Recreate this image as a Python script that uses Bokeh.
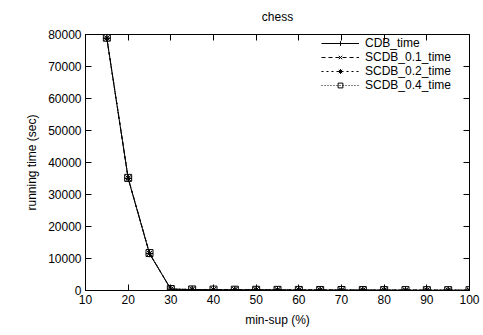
from bokeh.plotting import figure
from bokeh.models import (LinearAxis, Range1d, FixedTicker, Legend, LegendItem,
                          CustomLabelingPolicy)
from bokeh.embed import file_html
from bokeh.resources import INLINE

min_sup = [15, 20, 25, 30, 35, 40, 45, 50, 55, 60, 65, 70, 75, 80, 85, 90, 95, 100]
cdb_time = [78800, 35000, 11500, 400, 300, 250, 220, 200, 180, 160, 150, 140, 130, 120, 110, 100, 90, 80]
scdb_01_time = [78900, 35100, 11600, 420, 310, 260, 230, 210, 190, 170, 155, 145, 135, 125, 115, 105, 95, 85]
scdb_02_time = [78900, 35100, 11600, 430, 320, 270, 240, 215, 195, 175, 160, 150, 140, 130, 120, 110, 100, 90]
scdb_04_time = [79000, 35200, 11700, 450, 330, 280, 250, 220, 200, 180, 165, 155, 145, 135, 125, 115, 105, 95]
x_ticks = [10, 20, 30, 40, 50, 60, 70, 80, 90, 100]
y_ticks = [0, 10000, 20000, 30000, 40000, 50000, 60000, 70000, 80000]

FONT = "Liberation Sans"
FS = "12px"

p = figure(width=483, height=335, output_backend="svg", toolbar_location=None,
           x_range=Range1d(10, 100), y_range=Range1d(0, 80000),
           title="chess", min_border_left=85, min_border_right=14,
           min_border_top=33, min_border_bottom=45)
p.title.align = "center"
p.title.text_font = FONT
p.title.text_font_size = FS
p.title.text_font_style = "normal"
p.title.text_color = "black"
p.title.standoff = 14
p.grid.visible = False
p.outline_line_color = "black"
p.outline_line_width = 1
p.background_fill_color = "white"
p.border_fill_color = "white"

p.xaxis.ticker = FixedTicker(ticks=x_ticks)
p.yaxis.ticker = FixedTicker(ticks=y_ticks)
p.xaxis.axis_label = "min-sup (%)"
p.yaxis.axis_label = "running time (sec)"
for ax in [p.xaxis[0], p.yaxis[0]]:
    ax.major_tick_in = 6
    ax.major_tick_out = 0
    ax.minor_tick_in = 0
    ax.minor_tick_out = 0
    ax.axis_line_color = "black"
    ax.major_tick_line_color = "black"
    ax.major_label_text_font = FONT
    ax.major_label_text_font_size = FS
    ax.major_label_text_color = "black"
    ax.axis_label_text_font = FONT
    ax.axis_label_text_font_size = FS
    ax.axis_label_text_font_style = "normal"
    ax.axis_label_text_color = "black"
    ax.axis_label_standoff = 6
p.yaxis[0].major_label_standoff = 4
p.xaxis[0].major_label_standoff = 4

def mirror_axis(ticks):
    return LinearAxis(ticker=FixedTicker(ticks=ticks), major_tick_in=6, major_tick_out=0,
                      minor_tick_in=0, minor_tick_out=0,
                      major_label_policy=CustomLabelingPolicy(code="return new Set()"),
                      major_label_text_font_size="1px", major_label_standoff=0,
                      axis_line_color=None, major_tick_line_color="black")

p.add_layout(mirror_axis(y_ticks), "right")
p.add_layout(mirror_axis(x_ticks), "above")

series = [
    ("CDB_time", cdb_time, "solid", "cross"),
    ("SCDB_0.1_time", scdb_01_time, "4 3", "x"),
    ("SCDB_0.2_time", scdb_02_time, "2 3", "asterisk"),
    ("SCDB_0.4_time", scdb_04_time, "1 2", "square"),
]
items = []
for name, ys, dash, marker in series:
    r1 = p.line(min_sup, ys, line_color="black", line_width=1, line_dash=dash)
    r2 = p.scatter(min_sup, ys, marker=marker, size=7, line_color="black",
                   fill_color=None, line_width=1)
    items.append(LegendItem(label=name, renderers=[r1, r2]))

legend = Legend(items=items, location=(236, 198), border_line_color=None,
                background_fill_alpha=0, label_text_font=FONT, label_text_color="black",
                label_text_font_size=FS, spacing=-7, padding=1,
                glyph_width=38, margin=0, label_height=12, glyph_height=12,
                label_standoff=6)
p.add_layout(legend)

open("out.html", "w").write(file_html(p, INLINE))
